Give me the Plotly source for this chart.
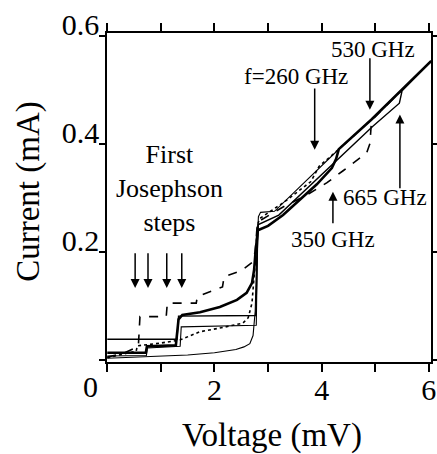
import plotly.graph_objects as go

# ---------------- data (V in mV, I in mA) ----------------
unpumped_v = [0, 0.5, 1.0, 1.5, 2.0, 2.4, 2.55, 2.66, 2.72, 2.76, 2.79, 2.82, 2.86, 3.12, 4.3, 4.93, 5.5, 6.04]
unpumped_i = [0.003, 0.005, 0.007, 0.009, 0.013, 0.019, 0.024, 0.03, 0.045, 0.09, 0.2, 0.265, 0.273, 0.275, 0.388, 0.445, 0.5, 0.553]

f260_v = [0, 0.3, 0.54, 0.56, 1.0, 1.36, 1.73, 2.16, 2.53, 2.63, 2.7, 2.76, 2.8, 2.85, 3.3, 3.8, 3.88, 3.95, 4.3, 4.93, 5.5, 6.04]
f260_i = [0.004, 0.01, 0.016, 0.026, 0.031, 0.037, 0.052, 0.06, 0.068, 0.078, 0.105, 0.18, 0.25, 0.262, 0.292, 0.33, 0.345, 0.358, 0.388, 0.445, 0.5, 0.553]

f350_v = [0, 0.72, 0.74, 1.28, 1.33, 1.40, 1.73, 2.1, 2.42, 2.6, 2.7, 2.74, 2.77, 2.81, 3.0, 3.28, 3.91, 4.19, 4.27, 4.32, 4.93, 5.5, 6.04]
f350_i = [0.013, 0.013, 0.025, 0.027, 0.075, 0.083, 0.088, 0.098, 0.111, 0.124, 0.142, 0.167, 0.204, 0.24, 0.248, 0.268, 0.325, 0.355, 0.372, 0.39, 0.445, 0.5, 0.553]

f350b_v = [0, 0.73, 0.75, 1.36, 1.38, 2.78, 2.80, 2.82]
f350b_i = [0.007, 0.008, 0.022, 0.025, 0.061, 0.064, 0.2, 0.25]

f530_v = [0, 0.3, 0.58, 0.61, 1.10, 1.12, 1.66, 1.68, 2.15, 2.18, 2.5, 2.7, 2.76, 2.79, 2.82, 3.28, 3.72, 4.1, 4.4, 4.84, 4.9, 4.93, 5.5, 6.04]
f530_i = [0.005, 0.012, 0.025, 0.08, 0.08, 0.105, 0.105, 0.117, 0.135, 0.154, 0.165, 0.18, 0.2, 0.24, 0.256, 0.283, 0.305, 0.328, 0.35, 0.383, 0.40, 0.443, 0.5, 0.553]

f665_v = [0, 1.30, 1.33, 2.77, 2.79, 2.81, 3.2, 4.0, 4.95, 5.45, 5.5, 6.04]
f665_i = [0.038, 0.038, 0.081, 0.082, 0.15, 0.25, 0.268, 0.343, 0.432, 0.475, 0.498, 0.553]

x_tick_vals = [0, 1, 2, 3, 4, 5, 6]
x_tick_text = ["", "", "2", "", "4", "", "6"]
y_tick_vals = [0, 0.2, 0.4, 0.6]
y_tick_text = ["", "0.2", "0.4", "0.6"]
x_title = "Voltage (mV)"
y_title = "Current (mA)"

# arrows: (x, tip_y, tail_y)
josephson_arrow_x = [0.52, 0.76, 1.11, 1.39]
josephson_arrow_tip = 0.133
josephson_arrow_tail = 0.2
freq_arrows = [  # x, tip, tail
    (3.87, 0.389, 0.505),
    (4.90, 0.463, 0.561),
    (5.46, 0.454, 0.315),
    (4.21, 0.311, 0.250),
]
labels = [  # text, x, y, size
    ("f=260 GHz", 3.52, 0.524, 23),
    ("530 GHz", 4.96, 0.574, 23),
    ("665 GHz", 5.18, 0.300, 23),
    ("350 GHz", 4.21, 0.222, 23),
    ("First<br>Josephson<br>steps", 1.17, 0.318, 26),
]

FONT = "Liberation Serif, Times New Roman, serif"

fig = go.Figure()
series = [
    (f530_v, f530_i, dict(color="black", width=1.6, dash="dash")),
    (f260_v, f260_i, dict(color="black", width=1.6, dash="dot")),
    (unpumped_v, unpumped_i, dict(color="black", width=1.1)),
    (f350b_v, f350b_i, dict(color="black", width=1.1)),
    (f665_v, f665_i, dict(color="black", width=1.4)),
    (f350_v, f350_i, dict(color="black", width=2.6)),
]
for v, i, ln in series:
    fig.add_trace(go.Scatter(x=v, y=i, mode="lines", line=ln, showlegend=False, hoverinfo="skip"))

ann = []
for xa in josephson_arrow_x:
    ann.append(dict(x=xa, y=josephson_arrow_tip, ax=xa, ay=josephson_arrow_tail, xref="x", yref="y",
                    axref="x", ayref="y", text="", showarrow=True, arrowhead=2, arrowsize=1.2,
                    arrowwidth=1.5, arrowcolor="black"))
for xa, tip, tail in freq_arrows:
    ann.append(dict(x=xa, y=tip, ax=xa, ay=tail, xref="x", yref="y", axref="x", ayref="y",
                    text="", showarrow=True, arrowhead=2, arrowsize=1.2, arrowwidth=1.5,
                    arrowcolor="black"))
for t, xa, ya, s in labels:
    ann.append(dict(x=xa, y=ya, xref="x", yref="y", text=t, showarrow=False,
                    font=dict(family=FONT, size=s, color="black"), align="center"))
ann.append(dict(x=0, y=0, xref="x", yref="y", text="0", showarrow=False, xshift=-17, yshift=-27,
                font=dict(family=FONT, size=30, color="black")))
# axis titles
ann.append(dict(x=-0.241, y=0.52, xref="paper", yref="paper", text=y_title, textangle=-90,
                showarrow=False, xanchor="center", yanchor="middle",
                font=dict(family=FONT, size=33, color="black")))
ann.append(dict(x=0.509, y=-0.222, xref="paper", yref="paper", text=x_title,
                showarrow=False, xanchor="center", yanchor="middle",
                font=dict(family=FONT, size=33, color="black")))

fig.update_layout(
    width=437, height=454,
    margin=dict(l=107, r=6, t=33, b=92, autoexpand=False),
    paper_bgcolor="white", plot_bgcolor="white",
    font=dict(family=FONT, color="black"),
    annotations=ann,
    xaxis=dict(range=[-0.005, 6.04], tickvals=x_tick_vals, ticktext=x_tick_text,
               ticks="outside", ticklen=8, tickwidth=1.5, tickcolor="black",
               showline=True, linewidth=1.6, linecolor="black", mirror="ticks",
               showgrid=False, zeroline=False, tickfont=dict(size=30, family=FONT),
               ticklabelstandoff=-8, automargin=False),
    yaxis=dict(range=[-0.004, 0.605], tickvals=y_tick_vals, ticktext=y_tick_text,
               ticks="outside", ticklen=6, tickwidth=1.5, tickcolor="black",
               showline=True, linewidth=1.6, linecolor="black", mirror="ticks",
               showgrid=False, zeroline=False, tickfont=dict(size=30, family=FONT),
               ticklabelshift=-11, ticklabelstandoff=-6, automargin=False),
)

fig.write_html("out.html", config={"displayModeBar": False},
               post_script="document.body.style.margin='0';document.body.style.padding='0';")
